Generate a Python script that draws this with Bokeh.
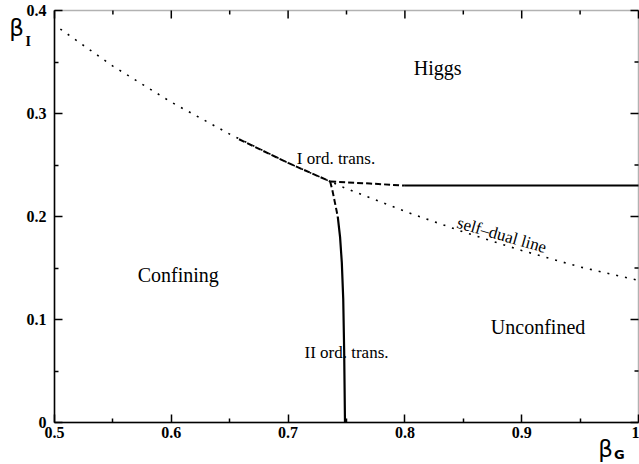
from bokeh.plotting import figure
from bokeh.models import FixedTicker, Label, Range1d, BoxAnnotation
from bokeh.embed import file_html
from bokeh.resources import INLINE

# ---- data ----
self_dual_x = [0.505, 0.55, 0.60, 0.65, 0.70, 0.75, 0.80, 0.85, 0.90, 0.95, 1.00]
self_dual_y = [0.382, 0.346, 0.311, 0.280, 0.252, 0.227, 0.205, 0.185, 0.167, 0.151, 0.138]

first_a_x = [0.658, 0.70, 0.736]          # dashed part on self-dual line
first_a_y = [0.275, 0.252, 0.234]
first_b_x = [0.736, 0.77, 0.80]           # dashed horizontal part
first_b_y = [0.234, 0.232, 0.230]
first_c_x = [0.80, 0.90, 1.00]            # solid horizontal part
first_c_y = [0.230, 0.230, 0.230]

second_a_x = [0.736, 0.738, 0.740, 0.7425]  # dashed part
second_a_y = [0.234, 0.225, 0.214, 0.200]
second_b_x = [0.7425, 0.7445, 0.746, 0.7472, 0.748, 0.7487]  # solid part
second_b_y = [0.200, 0.180, 0.155, 0.120, 0.070, 0.000]

x_ticks = [0.5, 0.6, 0.7, 0.8, 0.9, 1.0]
x_tick_labels = ["0.5", "0.6", "0.7", "0.8", "0.9", "1"]
x_minor = [0.55, 0.65, 0.75, 0.85, 0.95]
y_ticks = [0.0, 0.1, 0.2, 0.3, 0.4]
y_tick_labels = ["0", "0.1", "0.2", "0.3", "0.4"]
y_minor = [0.05, 0.15, 0.25, 0.35]

region_labels = ["Higgs", "Confining", "Unconfined"]
region_x = [0.828, 0.606, 0.914]
region_y = [0.344, 0.143, 0.093]

SERIF = "Liberation Serif"

# ---- layout: the data box sits at pixels x 54..638, y 10..422 of a 639x464 canvas ----
W, H = 639, 464
X0, X1, Y0, Y1 = 0.5, 1.0, 0.0, 0.4
PX_L, PX_R, PX_T, PX_B = 54, 638, 10, 422
sx = (X1 - X0) / (PX_R - PX_L)      # data per pixel, x
sy = (Y1 - Y0) / (PX_B - PX_T)      # data per pixel, y
x_range = Range1d(X0 - PX_L * sx, X1 + (W - PX_R) * sx)
y_range = Range1d(Y0 - (H - PX_B) * sy, Y1 + PX_T * sy)

p = figure(width=W, height=H, x_range=x_range, y_range=y_range,
           output_backend="svg", toolbar_location=None,
           min_border_left=0, min_border_right=0, min_border_top=0, min_border_bottom=0)
p.xgrid.visible = False
p.ygrid.visible = False
p.outline_line_color = None
p.background_fill_color = "white"
p.border_fill_color = "white"


def style(ax):
    ax.axis_line_color = "black"
    ax.axis_line_width = 1.5
    ax.major_tick_in = 8
    ax.major_tick_out = 0
    ax.minor_tick_in = 4
    ax.minor_tick_out = 0
    ax.major_tick_line_width = 1.5
    ax.minor_tick_line_width = 1.5
    ax.major_label_text_font = SERIF
    ax.major_label_text_font_style = "bold"
    ax.major_label_text_font_size = "16px"
    ax.major_label_text_color = "black"


xa = p.xaxis[0]
xa.ticker = FixedTicker(ticks=x_ticks, minor_ticks=x_minor)
xa.major_label_overrides = {t: l for t, l in zip(x_ticks, x_tick_labels)}
xa.fixed_location = Y0
xa.bounds = (X0, X1)
style(xa)
xa.major_label_standoff = 4

ya = p.yaxis[0]
ya.ticker = FixedTicker(ticks=y_ticks, minor_ticks=y_minor)
ya.major_label_overrides = {t: l for t, l in zip(y_ticks, y_tick_labels)}
ya.fixed_location = X0
ya.bounds = (Y0, Y1)
style(ya)
ya.major_label_standoff = 8

# box around the data area
p.add_layout(BoxAnnotation(left=X0, right=X1, bottom=Y0, top=Y1, fill_alpha=0,
                           line_color="black", line_width=1.5))

# inward ticks on the top and right edges, at the same tick positions
top_x = x_ticks + x_minor
top_len = [8 * sy] * len(x_ticks) + [4 * sy] * len(x_minor)
p.segment(x0=top_x, x1=top_x, y0=[Y1] * len(top_x), y1=[Y1 - l for l in top_len],
          line_color="black", line_width=1.5)
right_y = y_ticks + y_minor
right_len = [8 * sx] * len(y_ticks) + [4 * sx] * len(y_minor)
p.segment(x0=[X1] * len(right_y), x1=[X1 - l for l in right_len], y0=right_y, y1=right_y,
          line_color="black", line_width=1.5)

# curves
p.line(self_dual_x, self_dual_y, line_color="black", line_width=1.6, line_dash="2 7")
p.line(first_a_x, first_a_y, line_color="black", line_width=2, line_dash="6 3")
p.line(first_b_x, first_b_y, line_color="black", line_width=2, line_dash="6 3")
p.line(first_c_x, first_c_y, line_color="black", line_width=2)
p.line(second_a_x, second_a_y, line_color="black", line_width=2, line_dash="6 3")
p.line(second_b_x, second_b_y, line_color="black", line_width=2.2)

for t, x, y in zip(region_labels, region_x, region_y):
    p.add_layout(Label(x=x, y=y, text=t, text_align="center", text_baseline="middle",
                       text_font=SERIF, text_font_size="20px", text_color="black"))

p.add_layout(Label(x=0.741, y=0.256, text="I ord. trans.", text_align="center",
                   text_baseline="middle", text_font=SERIF, text_font_size="17px",
                   text_color="black"))
p.add_layout(Label(x=0.750, y=0.068, text="II ord. trans.", text_align="center",
                   text_baseline="middle", text_font=SERIF, text_font_size="17px",
                   text_color="black"))
p.add_layout(Label(x=0.883, y=0.182, text="self\u2013dual line", text_align="center",
                   text_baseline="middle", text_font=SERIF, text_font_size="17px",
                   text_color="black", angle=-0.28))

# axis titles
p.add_layout(Label(x=0.4675, y=0.383, text="\u03b2", text_align="center", text_baseline="middle",
                   text_font="DejaVu Sans", text_font_size="23px", text_color="black"))
p.add_layout(Label(x=0.4775, y=0.3695, text="I", text_align="center", text_baseline="middle",
                   text_font=SERIF, text_font_style="bold", text_font_size="14px",
                   text_color="black"))
p.add_layout(Label(x=0.9718, y=-0.0255, text="\u03b2", text_align="center", text_baseline="middle",
                   text_font="DejaVu Sans", text_font_size="23px", text_color="black"))
p.add_layout(Label(x=0.9835, y=-0.0315, text="G", text_align="center", text_baseline="middle",
                   text_font="DejaVu Sans", text_font_style="bold", text_font_size="13px",
                   text_color="black"))

open("out.html", "w").write(file_html(p, INLINE))
